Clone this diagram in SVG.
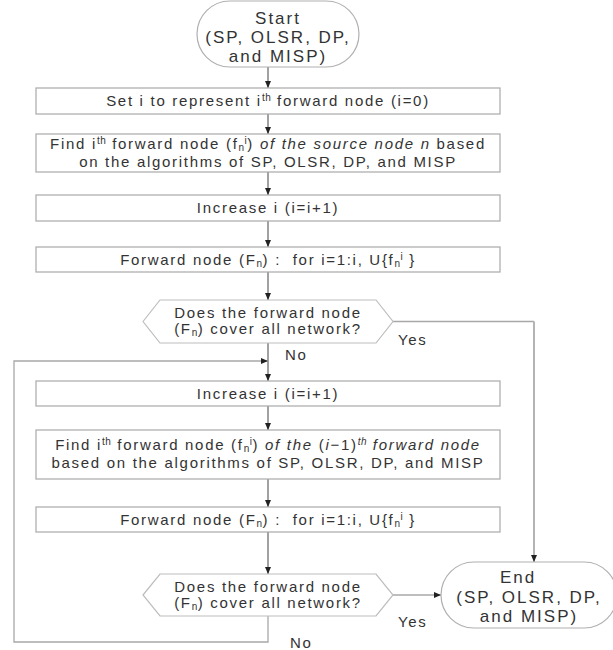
<svg xmlns="http://www.w3.org/2000/svg" width="613" height="650" viewBox="0 0 613 650">
<defs>
<marker id="ah" markerWidth="7" markerHeight="6" refX="7" refY="3" orient="auto" markerUnits="userSpaceOnUse">
<path d="M0,0 L7,3 L0,6 z" fill="#222"/>
</marker>
<style>
.box{fill:#fff;stroke:#a9a9a9;stroke-width:1.2}
.hex{fill:#fff;stroke:#bdbdbd;stroke-width:1.2}
.term{fill:#fff;stroke:#b0b0b0;stroke-width:1.2}
text{font-family:"Liberation Sans",Arial,sans-serif;font-size:15px;letter-spacing:1.7px;fill:#333}
.c{text-anchor:middle}
.big{font-size:17px;letter-spacing:2px}
.it{font-style:italic}
.sup{font-size:10px;letter-spacing:0.5px;baseline-shift:5px}
.sub{font-size:10px;letter-spacing:0.5px;baseline-shift:-1.5px}
.ln{fill:none;stroke:#444;stroke-width:1}
.gl{fill:none;stroke:#a8a8a8;stroke-width:1.3}
.gr{fill:none;stroke:#b4b4b4;stroke-width:2}
</style>
</defs>
<rect width="613" height="650" fill="#fff"/>
<g id="connectors">
<path class="ln" d="M268,67 V88" marker-end="url(#ah)"/>
<path class="ln" d="M268,114 V134" marker-end="url(#ah)"/>
<path class="ln" d="M268,172 V195" marker-end="url(#ah)"/>
<path class="ln" d="M268,221 V247" marker-end="url(#ah)"/>
<path class="ln" d="M268,272 V300" marker-end="url(#ah)"/>
<path class="ln" d="M268,343 V381" marker-end="url(#ah)"/>
<path class="gl" d="M393,321.5 H534"/>
<path class="gr" d="M534,321.5 V562" marker-end="url(#ah)"/>
<path class="ln" d="M268,406 V430" marker-end="url(#ah)"/>
<path class="ln" d="M268,479 V507" marker-end="url(#ah)"/>
<path class="ln" d="M268,532 V574" marker-end="url(#ah)"/>
<path class="gl" d="M393,595 H441" marker-end="url(#ah)"/>
<path class="gl" d="M268,616 V642 H14 V361 H268" marker-end="url(#ah)"/>
<text x="398" y="345">Yes</text>
<text x="285" y="360">No</text>
<text x="398" y="627">Yes</text>
<text x="290" y="648">No</text>
</g>
<g id="start">
<rect class="term" x="197" y="1" width="162" height="66" rx="33"/>
<text class="c big" x="278" y="24">Start</text>
<text class="c big" x="278" y="43">(SP, OLSR, DP,</text>
<text class="c big" x="278" y="62">and MISP)</text>
</g>
<g id="init">
<rect class="box" x="36" y="88" width="464" height="26"/>
<text class="c" x="268" y="106">Set i to represent i<tspan class="sup">th</tspan> forward node (i=0)</text>
</g>
<g id="find-first">
<rect class="box" x="36" y="134" width="464" height="38"/>
<text class="c" x="268" y="149">Find i<tspan class="sup">th</tspan> forward node (f<tspan class="sub">n</tspan><tspan class="sup">i</tspan>) <tspan class="it">of the source node n</tspan> based</text>
<text class="c" x="268" y="166.5">on the algorithms of SP, OLSR, DP, and MISP</text>
</g>
<g id="increase-1">
<rect class="box" x="36" y="195" width="464" height="26"/>
<text class="c" x="268" y="213">Increase i (i=i+1)</text>
</g>
<g id="forward-1">
<rect class="box" x="36" y="247" width="464" height="25"/>
<text class="c" x="268" y="265">Forward node (F<tspan class="sub">n</tspan>) :&#160; for i=1:i, U{f<tspan class="sub">n</tspan><tspan class="sup">i</tspan> }</text>
</g>
<g id="decision-1">
<polygon class="hex" points="143,321.5 160,300 376,300 393,321.5 376,343 160,343"/>
<text class="c" x="268" y="318">Does the forward node</text>
<text class="c" x="268" y="334">(F<tspan class="sub">n</tspan>) cover all network?</text>
</g>
<g id="increase-2">
<rect class="box" x="36" y="381" width="464" height="25"/>
<text class="c" x="268" y="399">Increase i (i=i+1)</text>
</g>
<g id="find-next">
<rect class="box" x="36" y="430" width="464" height="49"/>
<text class="c" x="268" y="450">Find i<tspan class="sup">th</tspan> forward node (f<tspan class="sub">n</tspan><tspan class="sup">i</tspan>) <tspan class="it">of the</tspan> (<tspan class="it">i</tspan>−1)<tspan class="sup it">th</tspan> <tspan class="it">forward node</tspan></text>
<text class="c" x="268" y="467.5">based on the algorithms of SP, OLSR, DP, and MISP</text>
</g>
<g id="forward-2">
<rect class="box" x="36" y="507" width="464" height="25"/>
<text class="c" x="268" y="525">Forward node (F<tspan class="sub">n</tspan>) :&#160; for i=1:i, U{f<tspan class="sub">n</tspan><tspan class="sup">i</tspan> }</text>
</g>
<g id="decision-2">
<polygon class="hex" points="143,595 160,574 376,574 393,595 376,616 160,616"/>
<text class="c" x="268" y="592">Does the forward node</text>
<text class="c" x="268" y="608">(F<tspan class="sub">n</tspan>) cover all network?</text>
</g>
<g id="end">
<rect class="term" x="441" y="562" width="176" height="66" rx="33"/>
<text class="c big" x="518" y="583">End</text>
<text class="c big" x="529" y="603">(SP, OLSR, DP,</text>
<text class="c big" x="529" y="622">and MISP)</text>
</g>
</svg>
